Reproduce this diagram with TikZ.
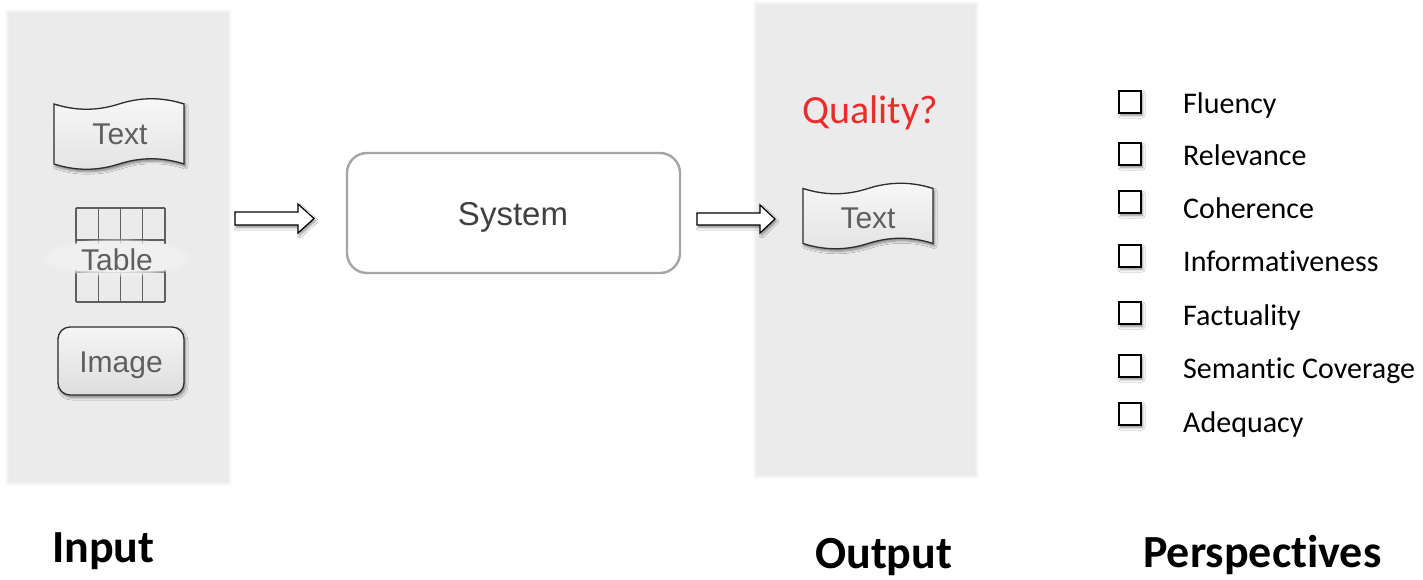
\documentclass[tikz,border=0pt]{standalone}
\usepackage{fontspec}
\setmainfont[Ligatures={NoCommon,NoContextual,NoRare}]{Carlito}
\newfontfamily\shapefont{Liberation Sans}
\usetikzlibrary{shadows.blur}

\definecolor{panelgray}{RGB}{235,235,235}
\definecolor{edgegray}{RGB}{45,45,45}
\definecolor{labelgray}{RGB}{95,95,95}
\definecolor{sysborder}{RGB}{165,165,165}
\definecolor{systext}{RGB}{64,64,64}
\definecolor{qred}{RGB}{236,44,44}
\definecolor{glow}{RGB}{243,243,243}

\tikzset{
  softshadow/.style={blur shadow={shadow xshift=1.5pt, shadow yshift=-2.5pt,
      shadow blur radius=2.5pt, shadow blur steps=6, shadow opacity=45}},
  panel/.style={fill=panelgray},
  tape/.style={draw=edgegray, line width=1.3pt, top color=white!97!black,
      bottom color=white!89!black, softshadow},
  shapetext/.style={font=\shapefont\fontsize{30}{32}\selectfont, text=labelgray},
  imgbox/.style={draw=edgegray, line width=1.3pt, rounded corners=12pt,
      top color=white!96!black, bottom color=white!87!black, softshadow,
      minimum width=126pt, minimum height=68pt, inner sep=0pt},
  grid/.style={draw=labelgray, line width=1.1pt},
  sysbox/.style={draw=sysborder, line width=2.4pt, rounded corners=20pt, fill=white,
      minimum width=333pt, minimum height=120pt, inner sep=0pt},
  systemtext/.style={font=\shapefont\fontsize{33}{36}\selectfont, text=systext},
  blockarrow/.style={draw=black, line width=1.2pt, fill=white, softshadow},
  checkbox/.style={draw=black, line width=1.5pt, fill=white, minimum size=22pt,
      inner sep=0pt, softshadow},
  perspective/.style={anchor=base west, inner sep=0pt, font=\fontsize{30}{34}\selectfont},
  heading/.style={anchor=base west, inner sep=0pt, font=\bfseries\fontsize{46}{50}\selectfont},
  quality/.style={font=\fontsize{40}{44}\selectfont, text=qred, inner sep=0pt}
}

% flag-like paper tape, centred at (#1,#2), width #3, height #4
\newcommand\tapepath[4]{%
  \path[tape] ({#1-#3/2},{#2-#4/2})
    .. controls ({#1-#3/3},{#2-#4/2+7}) and ({#1-#3/6},{#2-#4/2+7}) .. ({#1},{#2-#4/2})
    .. controls ({#1+#3/6},{#2-#4/2-7}) and ({#1+#3/3},{#2-#4/2-7}) .. ({#1+#3/2},{#2-#4/2})
    -- ({#1+#3/2},{#2+#4/2})
    .. controls ({#1+#3/3},{#2+#4/2-7}) and ({#1+#3/6},{#2+#4/2-7}) .. ({#1},{#2+#4/2})
    .. controls ({#1-#3/6},{#2+#4/2+7}) and ({#1-#3/3},{#2+#4/2+7}) .. ({#1-#3/2},{#2+#4/2})
    -- cycle;}

% soft-edged background column
\newcommand\softpanel[4]{%
  \foreach \g/\op in {4/0.15,3/0.25,2/0.35,1/0.5}{
    \fill[panelgray, opacity=\op] ({#1-\g},{#2-\g}) rectangle ({#3+\g},{#4+\g});}
  \fill[panel] (#1,#2) rectangle (#3,#4);}

\begin{document}
\begin{tikzpicture}[x=1pt, y=-1pt]
\useasboundingbox (0,0) rectangle (1423,579);
\fill[white] (0,0) rectangle (1423,579);

% columns
\softpanel{9}{13}{228}{482}
\softpanel{757}{5}{975}{475}

% ---- inputs ----
\tapepath{119}{134}{130}{60}
\node[shapetext] (inText) at (120,134.5) {Text};

% table: upper and lower halves, label glow across the middle
\foreach \x in {76,98.25,120.5,142.75,165}{
  \draw[grid] (\x,208) -- (\x,244);
  \draw[grid] (\x,270) -- (\x,302);}
\draw[grid] (76,208) -- (165,208);
\draw[grid] (76,240) -- (165,240);
\draw[grid] (76,272) -- (165,272);
\draw[grid] (76,302) -- (165,302);
\foreach \r in {8,6,4,2,0}
  \fill[glow, opacity=0.3] (117,258) ellipse [x radius={66+\r}, y radius={15+\r/2}];
\fill[panelgray!40!glow] (117,258) ellipse [x radius=62, y radius=14];
\node[shapetext] (inTable) at (117,260) {Table};

\node[imgbox] (inImage) at (121,361) {};
\node[shapetext] (imgLabel) at (121,365) {Image};

% ---- system ----
\node[sysbox] (system) at (513.5,213) {};
\node[systemtext] (sysLabel) at (513,217) {System};

\path[blockarrow] (235,212) -- (298,212) -- (298,204) -- (314,218.5)
  -- (298,233) -- (298,225) -- (235,225) -- cycle;
\path[blockarrow] (697,213) -- (760,213) -- (760,205) -- (775,219)
  -- (760,233) -- (760,225) -- (697,225) -- cycle;

% ---- output ----
\node[quality] (quality) at (870,113) {Quality?};
\tapepath{868}{216}{130}{55}
\node[shapetext] (outText) at (868,218.5) {Text};

% ---- perspectives ----
\foreach \n/\cy/\by/\t in {1/102/113/Fluency, 2/154/165/Relevance, 3/202/218/Coherence,
    4/256/271/Informativeness, 5/313/325/Factuality, 6/366/378/Semantic Coverage,
    7/414/432/Adequacy}{
  \node[checkbox] (box\n) at (1130,\cy) {};
  \node[perspective] (item\n) at (1183,\by) {\t};
}

% ---- headings ----
\node[heading] (hIn) at (52,562) {Input};
\node[heading] (hOut) at (815,568) {Output};
\node[heading] (hPersp) at (1143,567) {Perspectives};
\end{tikzpicture}
\end{document}
